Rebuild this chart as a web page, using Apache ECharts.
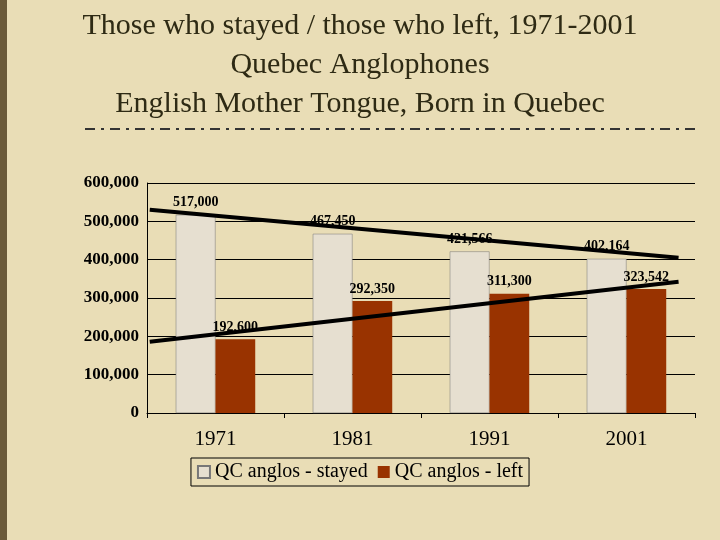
<!DOCTYPE html>
<html><head><meta charset="utf-8">
<script src="https://cdn.jsdelivr.net/npm/echarts@6/dist/echarts.min.js"></script>
<style>html,body{margin:0;padding:0;background:#e9ddb6}#c{width:720px;height:540px}</style>
</head><body><div id="c"></div>
<script>
const categories = ['1971','1981','1991','2001'];
const stayed = [517000, 467450, 421566, 402164];
const left = [192600, 292350, 311300, 323542];
const trendStayed = [[0.02, 530000], [3.88, 405000]];
const trendLeft = [[0.02, 186000], [3.88, 342500]];
const yTicks = [0,100000,200000,300000,400000,500000,600000];

const font = 'Liberation Serif, Times New Roman, serif';
const fmt = v => v.toLocaleString('en-US');
const chart = echarts.init(document.getElementById('c'));
chart.setOption({
  backgroundColor: '#e9ddb6',
  animation: false,
  title: {
    text: 'Those who stayed / those who left, 1971-2001\nQuebec Anglophones\nEnglish Mother Tongue, Born in Quebec',
    left: 'center', top: 2,
    textStyle: {fontFamily: font, fontSize: 30, fontWeight: 'normal', color: '#2e2a14', lineHeight: 39}
  },
  graphic: [
    {type:'rect', shape:{x:0,y:0,width:7,height:540}, style:{fill:'#6b5a3a'}},
    {type:'line', shape:{x1:85,y1:129,x2:700,y2:129}, style:{stroke:'#333',lineWidth:2,lineDash:[10,6,3,6]}}
  ],
  legend: {
    data: [{name:'QC anglos - stayed', icon:'rect'},{name:'QC anglos - left', icon:'rect'}],
    bottom: 54, left: 'center', itemWidth: 12, itemHeight: 12, itemGap: 10,
    borderColor: '#000', borderWidth: 1, padding: [4,6], backgroundColor: '#e9ddb6',
    textStyle: {fontFamily: font, fontSize: 20, color: '#000'}
  },
  grid: {left: 147, right: 25, top: 183, bottom: 127},
  xAxis: [
    {type:'category', data: categories, axisTick:{show:true, alignWithLabel:false, lineStyle:{color:'#000'}},
     axisLine:{lineStyle:{color:'#000'}}, axisLabel:{fontFamily:font, fontSize:21, color:'#000', margin:16}},
    {type:'value', min:0, max:4, show:false}
  ],
  yAxis: {type:'value', min:0, max:600000, interval:100000,
    axisLine:{show:true, lineStyle:{color:'#000'}}, axisTick:{show:false},
    splitLine:{lineStyle:{color:'#000', width:1}},
    axisLabel:{fontFamily:font, fontSize:17, fontWeight:'bold', color:'#000', margin:8, formatter: v => fmt(v)}
  },
  series: [
    {name:'QC anglos - stayed', type:'bar', data: stayed, barWidth:'29%', barGap:'0%',
     itemStyle:{color:'#e6dfd0', borderColor:'#777', borderWidth:0.5},
     label:{show:true, position:'top', fontFamily:font, fontSize:14, fontWeight:'bold', color:'#000', formatter:p=>fmt(p.value)}},
    {name:'QC anglos - left', type:'bar', data: left, barWidth:'29%',
     itemStyle:{color:'#993300'},
     label:{show:true, position:'top', fontFamily:font, fontSize:14, fontWeight:'bold', color:'#000', formatter:p=>fmt(p.value)}},
    {type:'line', xAxisIndex:1, data: trendStayed, symbol:'none', lineStyle:{color:'#000', width:4}, z:5, silent:true},
    {type:'line', xAxisIndex:1, data: trendLeft, symbol:'none', lineStyle:{color:'#000', width:4}, z:5, silent:true}
  ]
});
</script></body></html>
